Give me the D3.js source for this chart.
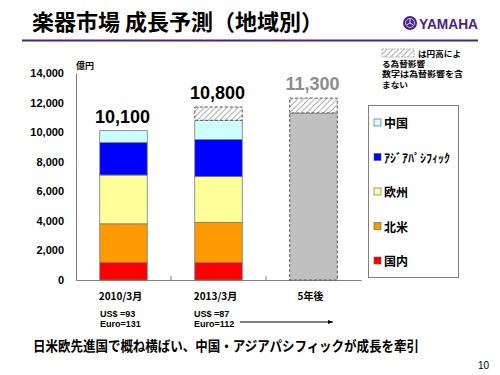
<!DOCTYPE html>
<html>
<head>
<meta charset="utf-8">
<script src="https://cdn.jsdelivr.net/npm/d3@7"></script>
<style>
  body { margin: 0; background: #fff; }
  svg { display: block; font-family: "Noto Sans CJK JP", "Liberation Sans", sans-serif; }
</style>
</head>
<body>
<div id="chart"></div>
<script>
// chart data
const categories = ['2010/3月', '2013/3月', '5年後'];
const regions = ['国内', '北米', '欧州', 'アジアパシフィック', '中国'];
const legendLabels = ['中国', 'ｱｼﾞｱﾊﾟｼﾌｨｯｸ', '欧州', '北米', '国内'];
const domestic = [1200, 1200];
const northAmerica = [2600, 2700];
const europe = [3300, 3100];
const asiaPacific = [2200, 2500];
const china = [800, 1300];
const forecastTotal = 11300;
const fxEffect = [0, 900, 1000];
const totalLabels = ['10,100', '10,800', '11,300'];
const yTicks = [0, 2000, 4000, 6000, 8000, 10000, 12000, 14000];
const rateNotes = [['US$ =93', 'Euro=131'], ['US$ =87', 'Euro=112']];

const colors = {
  '国内': '#ff0000', '北米': '#ff9900', '欧州': '#ffff99',
  'アジアパシフィック': '#0000ff', '中国': '#ccffff'
};
const legendColors = ['#ccffff', '#0000ff', '#ffff99', '#ff9900', '#ff0000'];

const W = 500, H = 375;
const svg = d3.select('#chart').append('svg').attr('width', W).attr('height', H);

const defs = svg.append('defs');
const pat = defs.append('pattern').attr('id', 'hatch')
  .attr('patternUnits', 'userSpaceOnUse').attr('width', 4).attr('height', 4)
  .attr('patternTransform', 'rotate(45)');
pat.append('rect').attr('width', 4).attr('height', 4).attr('fill', '#fff');
pat.append('line').attr('x1', 0).attr('y1', 0).attr('x2', 0).attr('y2', 4)
  .attr('stroke', '#999').attr('stroke-width', 1.6);

// header
svg.append('text').attr('x', 32).attr('y', 30)
  .attr('font-size', 22).attr('font-weight', 'bold').attr('fill', '#000')
  .text('楽器市場 成長予測（地域別）');
svg.append('line').attr('x1', 22).attr('x2', 478).attr('y1', 40.5).attr('y2', 40.5)
  .attr('stroke', '#4b2385').attr('stroke-width', 2);

// logo
const logo = svg.append('g').attr('transform', 'translate(410,23)');
logo.append('circle').attr('r', 7).attr('fill', '#4b2385');
logo.append('circle').attr('r', 4.5).attr('fill', 'none').attr('stroke', '#c8b8e0').attr('stroke-width', 1);
d3.range(3).forEach(i => {
  const a = i * 120 * Math.PI / 180 - Math.PI / 2;
  logo.append('line').attr('x1', 0).attr('y1', 0)
    .attr('x2', 4 * Math.cos(a)).attr('y2', 4 * Math.sin(a))
    .attr('stroke', '#e0d8f0').attr('stroke-width', 1);
});
svg.append('text').attr('x', 419).attr('y', 28.5)
  .attr('font-family', 'Liberation Sans Narrow, Liberation Sans, sans-serif')
  .attr('font-size', 14).attr('font-weight', 'bold').attr('fill', '#4b2385')
  .attr('textLength', 59).attr('lengthAdjust', 'spacingAndGlyphs')
  .text('YAMAHA');

// scales
const x = d3.scaleBand().domain(categories).range([76, 361]).padding(0);
const y = d3.scaleLinear().domain([0, 14000]).range([280, 73]);
const barW = x.bandwidth() * 0.5;
const barX = c => x(c) + (x.bandwidth() - barW) / 2;

// axes
const yAxis = svg.append('g').attr('transform', 'translate(76,0)')
  .call(d3.axisLeft(y).tickValues(yTicks).tickSize(0).tickPadding(12)
    .tickFormat(d3.format(',')));
yAxis.select('.domain').attr('stroke', '#808080');
yAxis.selectAll('text').attr('font-family', 'Liberation Sans, Arial, sans-serif')
  .attr('font-size', 11).attr('font-weight', 'bold').attr('fill', '#000');

const xAxis = svg.append('g').attr('transform', 'translate(0,280)')
  .call(d3.axisBottom(x).tickSize(0).tickFormat(''));
xAxis.select('.domain').attr('stroke', '#808080');
// divider ticks between categories
svg.append('g').selectAll('line').data(categories.slice(1)).join('line')
  .attr('x1', d => x(d)).attr('x2', d => x(d))
  .attr('y1', 276).attr('y2', 280).attr('stroke', '#808080');

svg.append('text').attr('x', 76).attr('y', 69)
  .attr('font-size', 9).attr('font-weight', 'bold').text('億円');

// stacked bars
const rows = [0, 1].map(i => ({
  cat: categories[i],
  '国内': domestic[i], '北米': northAmerica[i], '欧州': europe[i],
  'アジアパシフィック': asiaPacific[i], '中国': china[i]
}));
const stack = d3.stack().keys(regions)(rows);
svg.append('g').selectAll('g').data(stack).join('g')
  .attr('fill', d => colors[d.key])
  .selectAll('rect').data(d => d).join('rect')
  .attr('x', d => barX(d.data.cat))
  .attr('y', d => y(d[1]))
  .attr('width', barW)
  .attr('height', d => y(d[0]) - y(d[1]))
  .attr('stroke', '#7a7a7a').attr('stroke-width', 0.8);

// forecast bar
svg.append('rect')
  .attr('x', barX(categories[2])).attr('y', y(forecastTotal))
  .attr('width', barW).attr('height', y(0) - y(forecastTotal))
  .attr('fill', '#c0c0c0').attr('stroke', '#555')
  .attr('stroke-width', 1).attr('stroke-dasharray', '3,2');

// fx effect (hatched)
const baseTotals = [
  d3.sum(regions, k => rows[0][k]),
  d3.sum(regions, k => rows[1][k]),
  forecastTotal
];
const fxRows = categories.map((c, i) => ({ cat: c, base: baseTotals[i], fx: fxEffect[i] }))
  .filter(d => d.fx > 0);
svg.append('g').selectAll('rect').data(fxRows).join('rect')
  .attr('x', d => barX(d.cat))
  .attr('y', d => y(d.base + d.fx))
  .attr('width', barW)
  .attr('height', d => y(d.base) - y(d.base + d.fx))
  .attr('fill', 'url(#hatch)').attr('stroke', '#555')
  .attr('stroke-width', 1).attr('stroke-dasharray', '3,2');

// total labels
svg.append('g').selectAll('text').data(categories).join('text')
  .attr('x', d => x(d) + x.bandwidth() / 2 - 1)
  .attr('y', (d, i) => y(baseTotals[i] + fxEffect[i]) - 8)
  .attr('text-anchor', 'middle')
  .attr('font-family', 'Liberation Sans, Arial, sans-serif')
  .attr('font-size', 18).attr('font-weight', 'bold')
  .attr('fill', (d, i) => i === 2 ? '#8c8c8c' : '#000')
  .text((d, i) => totalLabels[i]);

// category labels
svg.append('g').selectAll('text').data(categories).join('text')
  .attr('x', d => x(d) + x.bandwidth() / 2 - 3)
  .attr('y', 300)
  .attr('text-anchor', 'middle')
  .attr('font-size', 10).attr('font-weight', 'bold')
  .text(d => d);

// exchange rate notes
rateNotes.forEach((lines, i) => {
  const t = svg.append('text')
    .attr('font-family', 'Liberation Sans Narrow, Liberation Sans, sans-serif')
    .attr('font-size', 9).attr('font-weight', 'bold');
  lines.forEach((l, j) => t.append('tspan').attr('x', x(categories[i]) + 24 - (i === 1 ? 1 : 0))
    .attr('y', 317 + j * 10).text(l));
});
defs.append('marker').attr('id', 'arrow').attr('viewBox', '0 0 10 10')
  .attr('refX', 10).attr('refY', 5).attr('markerWidth', 5).attr('markerHeight', 5)
  .attr('orient', 'auto')
  .append('path').attr('d', 'M0,1 L10,5 L0,9 Z').attr('fill', '#000');
svg.append('line').attr('x1', 240).attr('x2', 333).attr('y1', 322).attr('y2', 322)
  .attr('stroke', '#000').attr('stroke-width', 1).attr('marker-end', 'url(#arrow)');

// note at top right
svg.append('rect').attr('x', 382).attr('y', 49).attr('width', 32).attr('height', 8)
  .attr('fill', 'url(#hatch)').attr('stroke', '#888').attr('stroke-width', 0.6)
  .attr('stroke-dasharray', '2,1');
const noteLines = ['は円高によ', 'る為替影響', '数字は為替影響を含', 'まない'];
svg.append('g').selectAll('text').data(noteLines).join('text')
  .attr('x', (d, i) => i === 0 ? 418 : 382)
  .attr('y', (d, i) => 57 + i * 10.2)
  .attr('font-size', 8).attr('font-weight', 'bold')
  .attr('textLength', (d, i) => [43, 43, 81, 26][i])
  .attr('lengthAdjust', 'spacingAndGlyphs')
  .text(d => d);

// legend
svg.append('rect').attr('x', 368.5).attr('y', 105.5).attr('width', 90).attr('height', 172)
  .attr('fill', '#fff').attr('stroke', '#808080').attr('stroke-width', 1);
const leg = svg.append('g').selectAll('g').data(legendLabels).join('g')
  .attr('transform', (d, i) => `translate(374,${124 + i * 34.5})`);
leg.append('rect').attr('x', 0).attr('y', -5).attr('width', 7).attr('height', 7)
  .attr('fill', (d, i) => legendColors[i]).attr('stroke', '#555').attr('stroke-width', 0.6);
leg.append('text').attr('x', 10).attr('y', 4)
  .attr('font-size', 12).attr('font-weight', 'bold')
  .each(function (d, i) {
    if (i === 1) d3.select(this).attr('textLength', 66).attr('lengthAdjust', 'spacingAndGlyphs');
  })
  .text(d => d);

// footer
svg.append('text').attr('x', 33).attr('y', 351)
  .attr('font-size', 14).attr('font-weight', 'bold')
  .attr('textLength', 386).attr('lengthAdjust', 'spacingAndGlyphs')
  .text('日米欧先進国で概ね横ばい、中国・アジアパシフィックが成長を牽引');
svg.append('text').attr('x', 489).attr('y', 369).attr('text-anchor', 'end')
  .attr('font-family', 'Liberation Sans, Arial, sans-serif')
  .attr('font-size', 10).text('10');
</script>
</body>
</html>
